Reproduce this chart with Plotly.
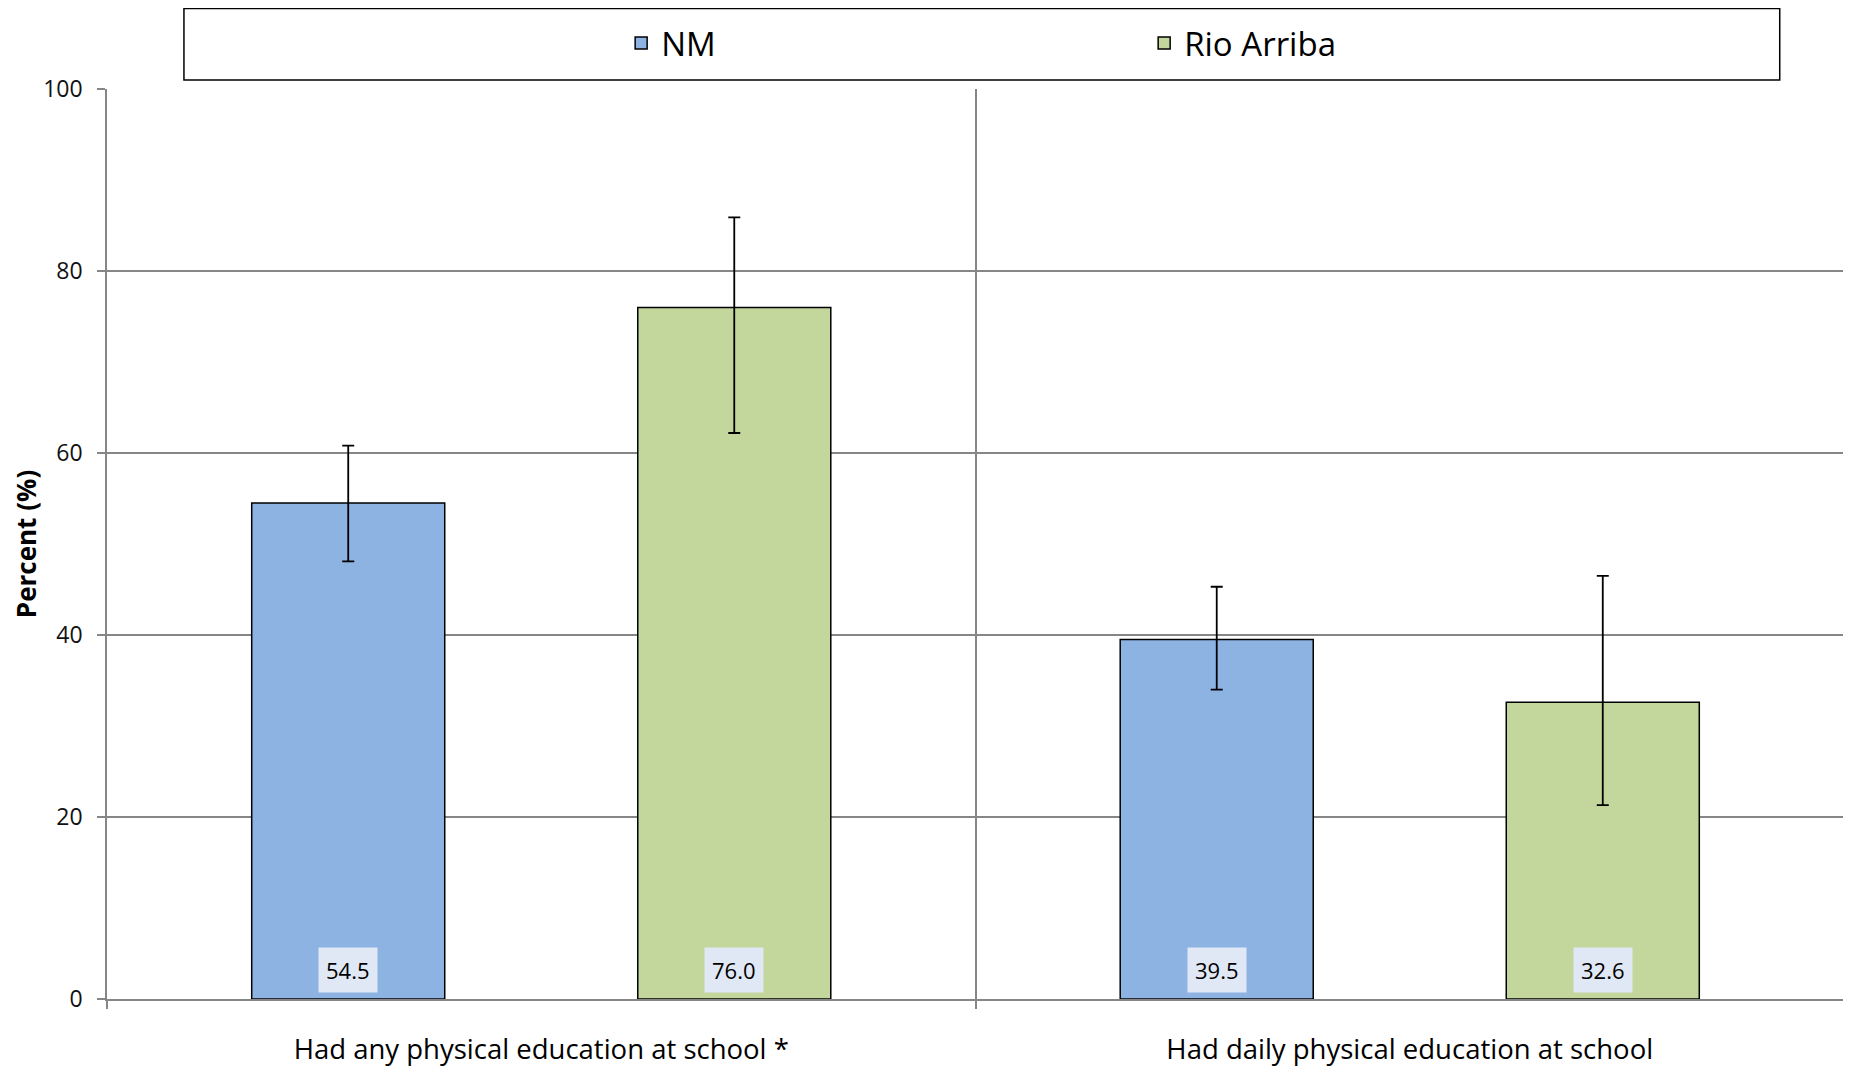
import plotly.graph_objects as go

categories = ["Had any physical education at school *", "Had daily physical education at school"]
series_names = ["NM", "Rio Arriba"]
nm_values = [54.5, 39.5]
nm_upper = [60.8, 45.3]
nm_lower = [48.1, 34.0]
ra_values = [76.0, 32.6]
ra_upper = [85.9, 46.5]
ra_lower = [62.2, 21.3]
y_ticks = [0, 20, 40, 60, 80, 100]

colors = ["#8DB3E2", "#C3D69B"]
BARGAP = 0.111
BARGROUPGAP = 0.5
FONT = "Open Sans, sans-serif"

fig = go.Figure()
series = [(nm_values, nm_upper, nm_lower), (ra_values, ra_upper, ra_lower)]
for name, (vals, up, lo), col in zip(series_names, series, colors):
    fig.add_trace(go.Bar(
        name=name, x=categories, y=vals,
        marker=dict(color=col, line=dict(color="#000000", width=1.5)),
        error_y=dict(type="data", symmetric=False,
                     array=[u - v for u, v in zip(up, vals)],
                     arrayminus=[v - l for v, l in zip(vals, lo)],
                     color="#000000", thickness=1.8, width=6),
        hoverinfo="y",
    ))

# data labels at bar bases
slot = (1 - BARGAP) / 2
annotations = []
for si, (vals, _, _) in enumerate(series):
    off = (si - 0.5) * slot
    for ci, v in enumerate(vals):
        annotations.append(dict(
            x=ci + off, y=0, xref="x", yref="y", text=f"{v:.1f}",
            showarrow=False, yanchor="bottom", yshift=6,
            font=dict(family=FONT, size=22, color="#000000"),
            bgcolor="#E1E8F5", borderpad=7,
        ))

fig.update_layout(
    width=1843, height=1060,
    margin=dict(l=99, r=7, t=81, b=69),
    paper_bgcolor="white", plot_bgcolor="white",
    barmode="group", bargap=BARGAP, bargroupgap=BARGROUPGAP,
    showlegend=True,
    legend=dict(orientation="h", x=0.296, xanchor="left", y=1.0505, yanchor="middle",
                font=dict(family=FONT, size=33, color="#000000"),
                entrywidth=478, entrywidthmode="pixels",
                bgcolor="rgba(0,0,0,0)", borderwidth=0),
    annotations=annotations,
    shapes=[dict(type="rect", xref="paper", yref="paper",
                 x0=0.0443, x1=0.963, y0=1.0099, y1=1.0885,
                 line=dict(color="#000000", width=1.5), fillcolor="rgba(0,0,0,0)", layer="below")],
    xaxis=dict(
        type="category", tickson="boundaries", ticks="outside", ticklen=8,
        tickcolor="#868686", tickwidth=1.5, automargin=False,
        showgrid=True, gridcolor="#868686", gridwidth=1.5,
        showline=True, linecolor="#868686", linewidth=1.5, mirror=False,
        ticklabelstandoff=25,
        tickfont=dict(family=FONT, size=27.5, color="#000000"),
    ),
    yaxis=dict(
        range=[0, 100], tickvals=y_ticks, ticks="outside", ticklen=8,
        tickcolor="#868686", tickwidth=1.5, automargin=False,
        showgrid=True, gridcolor="#868686", gridwidth=1.5,
        showline=True, linecolor="#868686", linewidth=1.5, zeroline=False,
        ticklabelstandoff=10,
        tickfont=dict(family=FONT, size=23, color="#111111"),
        title=dict(text="<b>Percent (%)</b>", standoff=3,
                   font=dict(family=FONT, size=26, color="#000000")),
    ),
)

fig.write_html("out.html")
